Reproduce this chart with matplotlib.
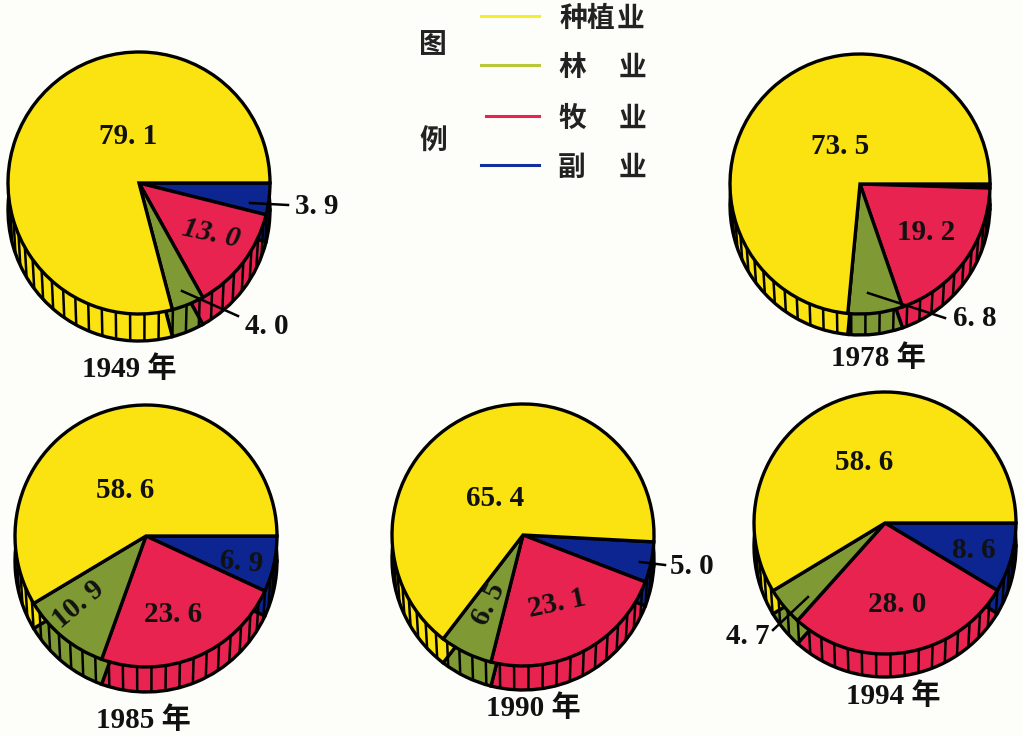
import numpy as np
import matplotlib
matplotlib.use('Agg')
import matplotlib.pyplot as plt

# 各年份 构成 (副业, 牧业, 林业, 种植业), 从右边水平线开始顺时针
years = ['1949 年', '1978 年', '1985 年', '1990 年', '1994 年']
fuye = [3.9, 0.5, 6.9, 5.0, 8.6]
muye = [13.0, 19.2, 23.6, 23.1, 28.0]
linye = [4.0, 6.8, 10.9, 6.5, 4.7]
zhongzhi = [79.1, 73.5, 58.6, 65.4, 58.6]
legend_names = ['种植业', '林  业', '牧  业', '副  业']

colors = ['#0c2590', '#e8234f', '#7f9a35', '#fbe211']
cjk = ['Noto Sans CJK SC', 'DejaVu Sans']
num_font = ['Liberation Serif'] + cjk

# 饼图位置 (像素)
centers = [(139, 183), (860, 184), (146, 536), (523, 535), (885, 523)]
radius = [131, 130, 131, 131, 131]
depth = [27, 21, 25, 24, 23]
starts = [0, 0, 0, -3, 0]

fig = plt.figure(figsize=(10.23, 7.36), dpi=100, facecolor='#fdfdfa')
ax = fig.add_axes([0, 0, 1, 1])


def Y(y):
    return 736 - y


def draw_pie(i):
    cx, cy = centers[i]
    r = radius[i]
    d = depth[i]
    vals = [fuye[i], muye[i], linye[i], zhongzhi[i]]
    style = dict(colors=colors, startangle=starts[i], counterclock=False, radius=r,
                 wedgeprops=dict(edgecolor='black', linewidth=2.4), normalize=True)
    # 底下一层 (厚度)
    ax.pie(vals, center=(cx, Y(cy + d)), **style)
    for a in np.radians(np.arange(12, 170, 6.3)):
        x_top = r * np.cos(a)
        y_top = r * np.sin(a)
        x_bot = x_top * 0.985  # 两边的竖线向里斜一点
        y_bot = d + np.sqrt(r ** 2 - x_bot ** 2)
        ax.plot([cx + x_top, cx + x_bot], [Y(cy + y_top), Y(cy + y_bot)],
                color='black', lw=1.8, solid_capstyle='butt')
    # 上面一层
    ax.pie(vals, center=(cx, Y(cy)), **style)


for i in range(5):
    draw_pie(i)

ax.set_xlim(0, 1023)
ax.set_ylim(0, 736)
ax.set_aspect('auto')
ax.axis('off')


def num(x, y, s, **kw):
    ax.text(x, Y(y), s, family=num_font, fontweight='bold', fontsize=21,
            ha='center', va='center', color='#111111', zorder=10, **kw)


# 数值标注
num(128, 137, '79. 1')
num(211, 234, '13. 0', rotation=-12, style='italic')
num(317, 207, '3. 9')
num(267, 326, '4. 0')
num(840, 146, '73. 5')
num(926, 232, '19. 2')
num(975, 318, '6. 8')
num(125, 490, '58. 6')
num(78, 605, '10. 9', rotation=40)
num(173, 615, '23. 6')
num(241, 562, '6. 9', rotation=-5)
num(495, 498, '65. 4')
num(489, 604, '6. 5', rotation=64)
num(557, 604, '23. 1', rotation=12)
num(692, 567, '5. 0')
num(864, 463, '58. 6')
num(897, 604, '28. 0')
num(974, 550, '8. 6')
num(748, 637, '4. 7')

# 引线
leaders = [((250, 203), (288, 205)), ((182, 291), (238, 316)), ((868, 293), (945, 318)),
           ((640, 562), (665, 565)), ((808, 597), (773, 630))]
for (x0, y0), (x1, y1) in leaders:
    ax.plot([x0, x1], [Y(y0), Y(y1)], color='black', lw=1.8, zorder=9)

# 年份
year_pos = [(129, 369), (878, 358), (143, 720), (533, 708), (893, 696)]
for (x, y), s in zip(year_pos, years):
    ax.text(x, Y(y), s, family=num_font, fontweight='bold', fontsize=21,
            ha='center', va='center', color='#111111', zorder=10)

# 图例
ax.text(433, Y(45), '图', family=cjk, fontweight='bold', fontsize=20, ha='center', va='center', color='#222222')
ax.text(433, Y(142), '例', family=cjk, fontweight='bold', fontsize=20, ha='center', va='center', color='#222222')
leg_y = [16, 65, 116, 165]
leg_x0 = [481, 481, 486, 481]
leg_c = ['#f5ee2a', '#b9c83a', '#e8234f', '#1030a0']
for y, x0, c, s in zip(leg_y, leg_x0, leg_c, legend_names):
    ax.plot([x0, 539], [Y(y), Y(y)], color=c, lw=2.2)
    chars = s.replace(' ', '')
    if len(chars) == 3:
        for xx, ch in zip([573, 600, 631], chars):
            ax.text(xx, Y(y + 3), ch, family=cjk, fontweight='bold', fontsize=20, ha='center', va='center', color='#222222')
    else:
        ax.text(572, Y(y + 3), chars[0], family=cjk, fontweight='bold', fontsize=20, ha='center', va='center', color='#222222')
        ax.text(632, Y(y + 3), chars[1], family=cjk, fontweight='bold', fontsize=20, ha='center', va='center', color='#222222')

fig.savefig('out.png', dpi=100, facecolor=fig.get_facecolor())
